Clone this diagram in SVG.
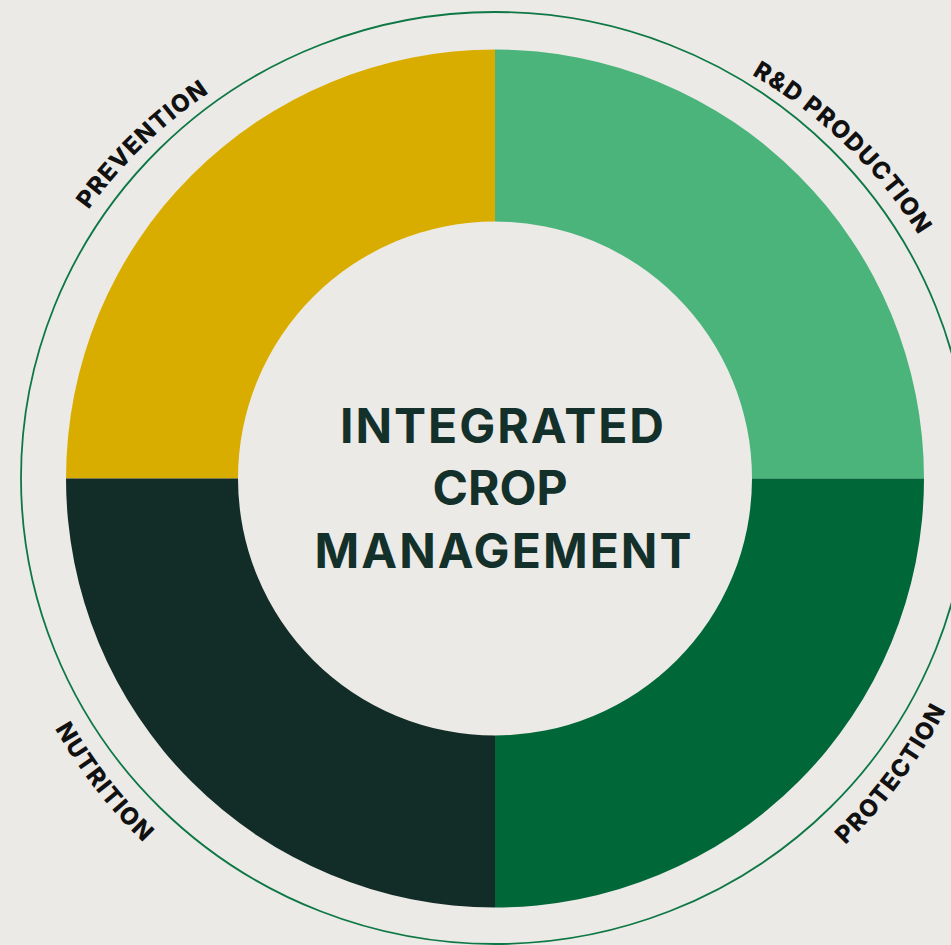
<svg xmlns="http://www.w3.org/2000/svg" width="951" height="945" viewBox="0 0 951 945">
  <style>
    .bg { fill: #ECEAE6; }
    .ring { fill: none; stroke: #0D7845; stroke-width: 1.8; }
    .title { font-family: Inter, "Open Sans", "Liberation Sans", sans-serif; font-weight: 700; font-size: 48px; fill: #13302A; text-anchor: middle; }
    .label { font-family: Inter, "Open Sans", "Liberation Sans", sans-serif; font-weight: 800; font-size: 24px; fill: #111111; letter-spacing: 1.2px; }
  </style>
  <defs>
    <path id="arcPrevention" d="M2.3,443.4 A494,472 0 0 1 445.1,8.4"/>
    <path id="arcRD" d="M544.1,8.3 A494,472 0 0 1 987.6,442.6"/>
    <path id="arcNutrition" d="M-11.2,459.4 A506.5,506.5 0 0 0 388.8,973.2"/>
    <path id="arcProtection" d="M611,972 A506.5,506.5 0 0 0 1000.5,448"/>
  </defs>
  <rect class="bg" x="0" y="0" width="951" height="945"/>
  <g id="outer-ring">
    <ellipse class="ring" cx="495" cy="478" rx="474" ry="466"/>
  </g>
  <g id="prevention">
    <path d="M66,478.5 A429,429 0 0 1 495,49.5 L495,221.5 A257,257 0 0 0 238,478.5 Z" fill="#D9AD00"/>
    <text class="label"><textPath href="#arcPrevention" startOffset="50%" text-anchor="middle">PREVENTION</textPath></text>
  </g>
  <g id="rd-production">
    <path d="M495,49.5 A429,429 0 0 1 924,478.5 L752,478.5 A257,257 0 0 0 495,221.5 Z" fill="#4AB47B"/>
    <text class="label"><textPath href="#arcRD" startOffset="50%" text-anchor="middle">R&amp;D PRODUCTION</textPath></text>
  </g>
  <g id="protection">
    <path d="M924,478.5 A429,429 0 0 1 495,907.5 L495,735.5 A257,257 0 0 0 752,478.5 Z" fill="#006838"/>
    <text class="label"><textPath href="#arcProtection" startOffset="50%" text-anchor="middle">PROTECTION</textPath></text>
  </g>
  <g id="nutrition">
    <path d="M495,907.5 A429,429 0 0 1 66,478.5 L238,478.5 A257,257 0 0 0 495,735.5 Z" fill="#122D28"/>
    <text class="label"><textPath href="#arcNutrition" startOffset="50%" text-anchor="middle">NUTRITION</textPath></text>
  </g>
  <g id="center">
    <text class="title" x="502" y="443" textLength="324">INTEGRATED</text>
    <text class="title" x="500" y="505" textLength="135">CROP</text>
    <text class="title" x="503" y="568" textLength="377">MANAGEMENT</text>
  </g>
  <g id="connectors"/>
</svg>
